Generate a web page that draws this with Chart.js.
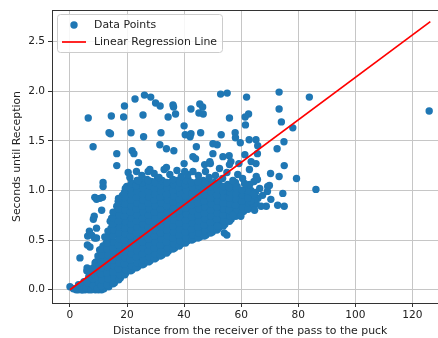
<!DOCTYPE html>
<html>
<head>
    <title>Seconds until Reception</title>
    <style>
        html, body {
            margin: 0;
            padding: 0;
            background-color: #FFFFFF;
            overflow: hidden;
        }

        #chart-container {
            width: 452px;
            height: 338px;
        }
    </style>
</head>
<body>
    <div id="chart-container">
        <canvas id="chart"></canvas>
    </div>

    <script src="https://cdn.jsdelivr.net/npm/chart.js"></script>
    <script>
        // Tick values of both axes
        var xTickValues = [0, 20, 40, 60, 80, 100, 120];
        var yTickValues = [0, 0.5, 1.0, 1.5, 2.0, 2.5];

        // Regression line end points (distance, seconds)
        var fitLineX = [0, 126.3];
        var fitLineY = [0.0, 2.70];

        // Passes received almost instantly
        var zeroRowPoints = [
            [0.0,0.03],[1.2,0.01],[2.2,0.0],[3.0,0.0],[4.4,0.0],[5.3,0.0],[6.6,0.0],[7.2,0.01],
            [8.9,0.0],[10.0,0.0],[11.1,0.0],[11.9,0.01],[3.0,0.05],[5.0,0.03],[7.0,0.08],[9.0,0.06],
            [9.2,0.19],[7.3,0.17],[9.1,0.28]
        ];

        // Short passes above the main cloud
        var shortPassPoints = [
            [3.5,0.32],[6.0,0.22],[6.1,0.45],[7.0,0.43],[6.2,0.54],[6.8,0.59],[7.6,0.55],[8.6,0.52],
            [9.3,0.52],[8.5,0.74],[8.2,0.71],[9.3,0.91],[8.7,0.93],[10.5,0.92],[11.4,0.93],[11.1,0.80],
            [11.6,1.04],[11.6,0.44],[9.3,0.62],[16.9,0.89],[17.8,0.80],[14.6,0.72],[15.1,0.65],[10.5,0.29]
        ];

        // Main cloud, read column by column
        var cloudPoints = [
            [2.4,0.01],[3.6,0.04],[4.1,0.0],[4.9,0.08],
            [5.6,0.02],[6.1,0.07],[6.6,0.13],[5.9,0.19],
            [7.5,0.0],[8.2,0.04],[7.9,0.11],[8.6,0.15],[8.1,0.22],[8.8,0.27],
            [9.6,0.01],[10.2,0.07],[9.9,0.13],[10.7,0.16],[10.1,0.24],[10.6,0.31],[9.8,0.34],[10.4,0.40],
            [11.5,0.02],[12.1,0.05],[12.6,0.11],[11.9,0.17],[12.3,0.25],[11.7,0.29],[12.5,0.36],[12.0,0.41],[12.7,0.47],[12.2,0.53],
            [13.6,0.03],[14.1,0.09],[14.6,0.15],[13.8,0.21],[14.3,0.27],[13.5,0.33],[14.5,0.38],[14.0,0.45],[14.7,0.49],[13.9,0.57],[14.4,0.62],[14.1,0.69],
            [15.6,0.07],[16.2,0.12],[16.7,0.19],[15.9,0.25],[16.4,0.30],[15.7,0.37],[16.6,0.42],[16.0,0.47],[16.5,0.55],[15.8,0.60],[16.3,0.66],[16.8,0.71],[15.9,0.77],[16.4,0.84],
            [17.7,0.12],[18.3,0.17],[18.8,0.24],[17.9,0.29],[18.5,0.35],[17.6,0.41],[18.2,0.46],[18.7,0.53],[17.8,0.58],[18.4,0.64],[18.9,0.70],[18.0,0.76],[18.6,0.82],[17.9,0.89],[18.4,0.95],
            [19.6,0.17],[20.2,0.22],[20.7,0.28],[19.9,0.35],[20.5,0.40],[19.7,0.47],[20.3,0.52],[20.8,0.58],[20.0,0.63],[20.6,0.70],[19.8,0.75],[20.4,0.81],[20.9,0.87],[20.1,0.93],[20.6,0.99],[19.9,1.04],
            [21.8,0.20],[22.4,0.25],[22.9,0.32],[22.0,0.37],[22.6,0.43],[21.7,0.49],[22.3,0.55],[22.8,0.60],[21.9,0.66],[22.5,0.71],[23.0,0.78],[22.1,0.84],[22.7,0.89],[21.8,0.95],[22.4,1.01],[22.9,1.07],
            [23.8,0.23],[24.4,0.29],[24.9,0.35],[24.0,0.40],[24.6,0.46],[23.7,0.52],[24.3,0.58],[24.8,0.64],[23.9,0.69],[24.5,0.75],[25.0,0.81],[24.1,0.87],[24.7,0.93],[23.8,0.98],[24.4,1.04],[24.9,1.09],
            [25.9,0.26],[26.5,0.32],[27.0,0.37],[26.1,0.43],[26.7,0.49],[25.8,0.55],[26.4,0.61],[26.9,0.66],[26.0,0.72],[26.6,0.78],[27.1,0.84],[26.2,0.89],[26.8,0.95],[25.9,1.01],[26.5,1.06],[27.0,1.11],
            [28.0,0.29],[28.6,0.34],[29.1,0.40],[28.2,0.46],[28.8,0.52],[27.9,0.57],[28.5,0.63],[29.0,0.69],[28.1,0.75],[28.7,0.80],[29.2,0.86],[28.3,0.92],[28.9,0.98],[28.0,1.03],[28.6,1.09],
            [30.1,0.32],[30.7,0.37],[31.2,0.43],[30.3,0.49],[30.9,0.55],[30.0,0.60],[30.6,0.66],[31.1,0.72],[30.2,0.78],[30.8,0.84],[31.3,0.89],[30.4,0.95],[31.0,1.01],[30.1,1.06],[30.7,1.12],
            [32.3,0.35],[32.9,0.41],[33.4,0.47],[32.5,0.52],[33.1,0.58],[32.2,0.64],[32.8,0.70],[33.3,0.75],[32.4,0.81],[33.0,0.87],[33.5,0.93],[32.6,0.98],[33.2,1.04],[32.3,1.10],
            [34.5,0.39],[35.1,0.44],[35.6,0.50],[34.7,0.56],[35.3,0.62],[34.4,0.67],[35.0,0.73],[35.5,0.79],[34.6,0.85],[35.2,0.90],[35.7,0.96],[34.8,1.02],[35.4,1.08],
            [36.7,0.42],[37.3,0.48],[37.8,0.54],[36.9,0.59],[37.5,0.65],[36.6,0.71],[37.2,0.77],[37.7,0.82],[36.8,0.88],[37.4,0.94],[37.9,1.00],[37.0,1.05],[37.6,1.10],
            [38.9,0.46],[39.5,0.51],[40.0,0.57],[39.1,0.63],[39.7,0.69],[38.8,0.74],[39.4,0.80],[39.9,0.86],[39.0,0.92],[39.6,0.97],[40.1,1.03],[39.2,1.09],
            [41.1,0.49],[41.7,0.55],[42.2,0.60],[41.3,0.66],[41.9,0.72],[41.0,0.78],[41.6,0.83],[42.1,0.89],[41.2,0.95],[41.8,1.01],[42.3,1.06],[41.4,1.11],
            [43.3,0.51],[43.9,0.57],[44.4,0.63],[43.5,0.68],[44.1,0.74],[43.2,0.80],[43.8,0.86],[44.3,0.91],[43.4,0.97],[44.0,1.03],[44.5,1.08],
            [45.5,0.53],[46.1,0.59],[46.6,0.65],[45.7,0.70],[46.3,0.76],[45.4,0.82],[46.0,0.88],[46.5,0.93],[45.6,0.99],[46.2,1.05],[46.7,1.10],
            [47.7,0.55],[48.3,0.61],[48.8,0.67],[47.9,0.72],[48.5,0.78],[47.6,0.84],[48.2,0.90],[48.7,0.95],[47.8,1.01],[48.4,1.07],
            [49.9,0.58],[50.5,0.63],[51.0,0.69],[50.1,0.75],[50.7,0.81],[49.8,0.86],[50.4,0.92],[50.9,0.98],[50.0,1.03],[50.6,1.08],
            [52.1,0.62],[52.7,0.67],[53.2,0.73],[52.3,0.79],[52.9,0.85],[52.0,0.90],[52.6,0.96],[53.1,1.02],[52.2,1.07],
            [54.3,0.66],[54.9,0.72],[55.4,0.78],[54.5,0.83],[55.1,0.89],[54.2,0.95],[54.8,1.01],[55.3,1.06],
            [56.5,0.71],[57.1,0.77],[57.6,0.82],[56.7,0.88],[57.3,0.94],[56.4,0.99],[57.0,1.05],
            [58.7,0.76],[59.3,0.81],[59.8,0.87],[58.9,0.93],[59.5,0.99],[58.6,1.04],
            [60.9,0.79],[61.5,0.85],[62.0,0.91],[61.1,0.97],[61.7,1.02],
            [63.1,0.83],[63.7,0.89],[62.8,0.95],[63.4,1.00],
            [65.3,0.86],[65.9,0.92],[65.0,0.98]
        ];

        // Second pass over the cloud, between the columns above
        var cloudFillPoints = [
            [11.0,0.04],[11.3,0.10],[10.9,0.16],[11.2,0.22],[11.0,0.28],[11.3,0.35],[11.1,0.41],
            [13.0,0.05],[13.3,0.11],[12.9,0.17],[13.2,0.23],[13.0,0.29],[13.3,0.35],[12.9,0.41],[13.2,0.47],[13.0,0.53],[13.3,0.59],
            [15.1,0.06],[15.4,0.12],[15.0,0.18],[15.3,0.24],[15.1,0.30],[15.4,0.36],[15.0,0.42],[15.3,0.48],[15.1,0.54],[15.4,0.60],[15.0,0.66],[15.3,0.72],[15.1,0.78],
            [17.1,0.10],[17.4,0.15],[17.0,0.21],[17.3,0.27],[17.1,0.33],[17.4,0.39],[17.0,0.45],[17.3,0.51],[17.1,0.57],[17.4,0.63],[17.0,0.69],[17.3,0.75],[17.1,0.81],[17.3,0.87],[17.0,0.92],
            [19.2,0.15],[19.5,0.20],[19.1,0.26],[19.4,0.32],[19.2,0.38],[19.5,0.44],[19.1,0.50],[19.4,0.56],[19.2,0.62],[19.5,0.68],[19.1,0.74],[19.4,0.80],[19.2,0.86],[19.5,0.92],[19.1,0.98],[19.4,1.02],
            [21.3,0.19],[21.6,0.24],[21.2,0.30],[21.5,0.36],[21.3,0.42],[21.6,0.48],[21.2,0.54],[21.5,0.60],[21.3,0.66],[21.6,0.72],[21.2,0.78],[21.5,0.84],[21.3,0.90],[21.6,0.96],[21.2,1.02],[21.5,1.07],
            [23.3,0.22],[23.6,0.27],[23.2,0.33],[23.5,0.39],[23.3,0.45],[23.6,0.51],[23.2,0.57],[23.5,0.63],[23.3,0.69],[23.6,0.75],[23.2,0.81],[23.5,0.87],[23.3,0.93],[23.6,0.99],[23.2,1.05],[23.5,1.10],
            [25.4,0.25],[25.7,0.30],[25.3,0.36],[25.6,0.42],[25.4,0.48],[25.7,0.54],[25.3,0.60],[25.6,0.66],[25.4,0.72],[25.7,0.78],[25.3,0.84],[25.6,0.90],[25.4,0.96],[25.7,1.02],[25.3,1.08],
            [27.5,0.28],[27.8,0.33],[27.4,0.39],[27.7,0.45],[27.5,0.51],[27.8,0.57],[27.4,0.63],[27.7,0.69],[27.5,0.75],[27.8,0.81],[27.4,0.87],[27.7,0.93],[27.5,0.99],[27.8,1.05],[27.4,1.10],
            [29.6,0.31],[29.9,0.36],[29.5,0.42],[29.8,0.48],[29.6,0.54],[29.9,0.60],[29.5,0.66],[29.8,0.72],[29.6,0.78],[29.9,0.84],[29.5,0.90],[29.8,0.96],[29.6,1.02],[29.9,1.08],
            [31.7,0.34],[32.0,0.39],[31.6,0.45],[31.9,0.51],[31.7,0.57],[32.0,0.63],[31.6,0.69],[31.9,0.75],[31.7,0.81],[32.0,0.87],[31.6,0.93],[31.9,0.99],[31.7,1.05],[32.0,1.10],
            [33.9,0.37],[34.2,0.42],[33.8,0.48],[34.1,0.54],[33.9,0.60],[34.2,0.66],[33.8,0.72],[34.1,0.78],[33.9,0.84],[34.2,0.90],[33.8,0.96],[34.1,1.02],[33.9,1.08],
            [36.1,0.41],[36.4,0.46],[36.0,0.52],[36.3,0.58],[36.1,0.64],[36.4,0.70],[36.0,0.76],[36.3,0.82],[36.1,0.88],[36.4,0.94],[36.0,1.00],[36.3,1.06],[36.1,1.11],
            [38.3,0.44],[38.6,0.49],[38.2,0.55],[38.5,0.61],[38.3,0.67],[38.6,0.73],[38.2,0.79],[38.5,0.85],[38.3,0.91],[38.6,0.97],[38.2,1.03],[38.5,1.08],
            [40.5,0.47],[40.8,0.52],[40.4,0.58],[40.7,0.64],[40.5,0.70],[40.8,0.76],[40.4,0.82],[40.7,0.88],[40.5,0.94],[40.8,1.00],[40.4,1.06],[40.7,1.10],
            [42.7,0.50],[43.0,0.55],[42.6,0.61],[42.9,0.67],[42.7,0.73],[43.0,0.79],[42.6,0.85],[42.9,0.91],[42.7,0.97],[43.0,1.03],[42.6,1.08],
            [44.9,0.52],[45.2,0.57],[44.8,0.63],[45.1,0.69],[44.9,0.75],[45.2,0.81],[44.8,0.87],[45.1,0.93],[44.9,0.99],[45.2,1.05],[44.8,1.09],
            [47.1,0.54],[47.4,0.59],[47.0,0.65],[47.3,0.71],[47.1,0.77],[47.4,0.83],[47.0,0.89],[47.3,0.95],[47.1,1.01],[47.4,1.07],
            [49.3,0.57],[49.6,0.62],[49.2,0.68],[49.5,0.74],[49.3,0.80],[49.6,0.86],[49.2,0.92],[49.5,0.98],[49.3,1.04],
            [51.5,0.60],[51.8,0.65],[51.4,0.71],[51.7,0.77],[51.5,0.83],[51.8,0.89],[51.4,0.95],[51.7,1.01],[51.5,1.06],
            [53.7,0.64],[54.0,0.69],[53.6,0.75],[53.9,0.81],[53.7,0.87],[54.0,0.93],[53.6,0.99],[53.9,1.04],
            [55.9,0.69],[56.2,0.74],[55.8,0.80],[56.1,0.86],[55.9,0.92],[56.2,0.98],[55.8,1.03],
            [58.1,0.74],[58.4,0.79],[58.0,0.85],[58.3,0.91],[58.1,0.97],[58.4,1.02],
            [60.3,0.78],[60.6,0.83],[60.2,0.89],[60.5,0.95],[60.3,1.00],
            [62.4,0.81],[62.7,0.87],[62.3,0.93],[62.6,0.98],
            [64.4,0.85],[64.7,0.91],[64.3,0.96]
        ];

        // Loose band along the top and right edge of the cloud
        var edgePoints = [
            [21.0,1.13],[25.2,1.15],[29.5,1.17],[31.2,1.13],[35.0,1.16],[37.5,1.20],[39.0,1.14],[41.3,1.16],
            [45.0,1.15],[47.5,1.19],[48.8,1.13],[51.0,1.15],[53.5,1.12],[55.0,1.18],[58.0,1.08],[60.5,1.12],
            [63.0,1.06],[64.5,1.09],[66.5,1.02],[67.5,0.95],[68.8,0.84],[70.4,0.91],[72.8,0.85],[75.1,0.84],
            [74.6,0.97],[69.2,0.99],[69.3,1.04],[67.0,0.84],[64.7,0.80],[63.4,0.89],[57.0,0.75],[59.9,0.74],
            [54.1,0.57],[55.0,0.55],[51.7,0.64],[62.3,0.92],[65.7,1.11]
        ];

        // Slow receptions (upper part of the plot)
        var slowPoints = [
            [6.4,1.73],[14.5,1.75],[13.7,1.58],[14.2,1.57],[8.1,1.44],[16.4,1.37],[16.4,1.25],[11.6,1.08],
            [19.1,1.85],[18.8,1.74],[21.4,1.58],[20.4,1.18],[22.8,1.92],[26.1,1.96],[28.3,1.94],[30.0,1.88],
            [31.6,1.85],[25.6,1.76],[25.8,1.54],[21.8,1.40],[22.4,1.37],[24.0,1.28],[31.9,1.58],[31.5,1.46],
            [33.8,1.42],[36.4,1.40],[36.1,1.86],[36.3,1.84],[37.0,1.77],[34.4,1.74],[33.8,1.23],[33.0,1.21],
            [28.0,1.21],[27.4,1.19],[23.3,1.19],[24.0,1.10],[40.0,1.65],[40.4,1.56],[42.1,1.54],[42.4,1.57],
            [42.4,1.82],[45.5,1.87],[46.5,1.84],[45.2,1.78],[46.7,1.77],[45.8,1.58],[44.3,1.44],[44.0,1.32],
            [47.2,1.26],[49.2,1.27],[50.1,1.37],[50.1,1.47],[51.6,1.46],[40.0,1.27],[40.2,1.19],[43.1,1.34],
            [43.1,1.19],[52.8,1.97],[55.1,1.98],[61.9,1.94],[55.9,1.73],[62.6,1.77],[61.4,1.74],[61.5,1.66],
            [53.0,1.56],[57.9,1.58],[58.0,1.53],[59.7,1.48],[62.8,1.51],[65.2,1.51],[53.6,1.34],[55.8,1.35],
            [61.3,1.36],[56.4,1.29],[49.0,1.29],[59.2,1.27],[63.5,1.29],[52.4,1.22],[55.9,1.26],[58.8,1.16],
            [62.9,1.21],[57.1,1.10],[61.2,1.07],[73.3,1.99],[83.9,1.94],[73.3,1.82],[74.1,1.69],[78.1,1.63],
            [75.0,1.49],[72.6,1.42],[65.8,1.45],[65.7,1.37],[65.2,1.27],[75.1,1.25],[70.3,1.17],[73.3,1.14],
            [79.4,1.12],[65.3,1.14],[69.9,1.05],[86.2,1.01],[125.9,1.80]
        ];

        var allPoints = zeroRowPoints.concat(shortPassPoints, cloudPoints, cloudFillPoints, edgePoints, slowPoints);
        var scatterData = allPoints.map(function(p) { return {x: p[0], y: p[1]}; });
        var fitData = fitLineX.map(function(x, i) { return {x: x, y: fitLineY[i]}; });

        var TICK_SIZE = 10.6;
        var LABEL_SIZE = 10.9;
        Chart.defaults.font.family = "'DejaVu Sans', sans-serif";
        Chart.defaults.font.size = TICK_SIZE;
        Chart.defaults.color = '#222222';

        // top spine + matplotlib-like legend box
        var frameAndLegend = {
            id: 'frameAndLegend',
            afterDraw: function(chart) {
                var a = chart.chartArea;
                var c = chart.ctx;
                c.save();
                c.strokeStyle = '#333333';
                c.lineWidth = 1;
                c.beginPath();
                c.moveTo(a.left, a.top + 0.5);
                c.lineTo(a.right, a.top + 0.5);
                c.stroke();

                var bx = 57.5, by = 14.5, bw = 165, bh = 38;
                c.fillStyle = 'rgba(255,255,255,0.85)';
                c.strokeStyle = '#cccccc';
                c.beginPath();
                c.roundRect(bx, by, bw, bh, 3);
                c.fill();
                c.stroke();

                var pts = chart.data.datasets[1];
                var fit = chart.data.datasets[0];
                c.fillStyle = pts.backgroundColor;
                c.beginPath();
                c.arc(74, 25, 3.7, 0, Math.PI * 2);
                c.fill();

                c.strokeStyle = fit.borderColor;
                c.lineWidth = fit.borderWidth;
                c.beginPath();
                c.moveTo(62, 42);
                c.lineTo(86, 42);
                c.stroke();

                c.fillStyle = '#222222';
                c.font = LABEL_SIZE + "px 'DejaVu Sans'";
                c.textBaseline = 'middle';
                c.fillText(pts.label, 94, 25);
                c.fillText(fit.label, 94, 42);
                c.restore();
            }
        };

        var ctx = document.getElementById('chart').getContext('2d');
        var chart = new Chart(ctx, {
            type: 'scatter',
            data: {
                datasets: [{
                    type: 'line',
                    label: 'Linear Regression Line',
                    data: fitData,
                    borderColor: '#ff0000',
                    borderWidth: 1.7,
                    pointRadius: 0,
                    fill: false,
                    tension: 0,
                    order: 1
                }, {
                    label: 'Data Points',
                    data: scatterData,
                    backgroundColor: '#1f77b4',
                    borderWidth: 0,
                    pointRadius: 3.7,
                    pointHoverRadius: 3.7,
                    order: 2
                }]
            },
            options: {
                animation: false,
                responsive: true,
                maintainAspectRatio: false,
                layout: { padding: { left: 0, right: 3, top: 10, bottom: 0 } },
                plugins: {
                    legend: { display: false },
                    tooltip: { enabled: false }
                },
                scales: {
                    x: {
                        type: 'linear',
                        min: -6.3,
                        max: 132.6,
                        z: 1,
                        afterBuildTicks: function(s) {
                            s.ticks = xTickValues.map(function(v) { return {value: v}; });
                        },
                        afterFit: function(s) { s.height = 35; },
                        grid: { color: '#c6c6c6', lineWidth: 1, tickLength: 4, tickColor: '#333333' },
                        border: { color: '#333333', width: 1 },
                        ticks: { padding: 2, maxRotation: 0, autoSkip: false },
                        title: {
                            display: true,
                            text: 'Distance from the receiver of the pass to the puck',
                            font: { size: LABEL_SIZE },
                            padding: { top: 0, bottom: 0.46 }
                        }
                    },
                    y: {
                        type: 'linear',
                        min: -0.134,
                        max: 2.817,
                        z: 1,
                        afterBuildTicks: function(s) {
                            s.ticks = yTickValues.map(function(v) { return {value: v}; });
                        },
                        afterFit: function(s) { s.width = 52; },
                        grid: { color: '#c6c6c6', lineWidth: 1, tickLength: 4, tickColor: '#333333' },
                        border: { color: '#333333', width: 1 },
                        ticks: {
                            padding: 3,
                            autoSkip: false,
                            callback: function(v) { return Number(v).toFixed(1); }
                        },
                        title: {
                            display: true,
                            text: 'Seconds until Reception',
                            font: { size: LABEL_SIZE },
                            padding: { top: 10.46, bottom: 0 }
                        }
                    }
                }
            },
            plugins: [frameAndLegend]
        });
    </script>
</body>
</html>
